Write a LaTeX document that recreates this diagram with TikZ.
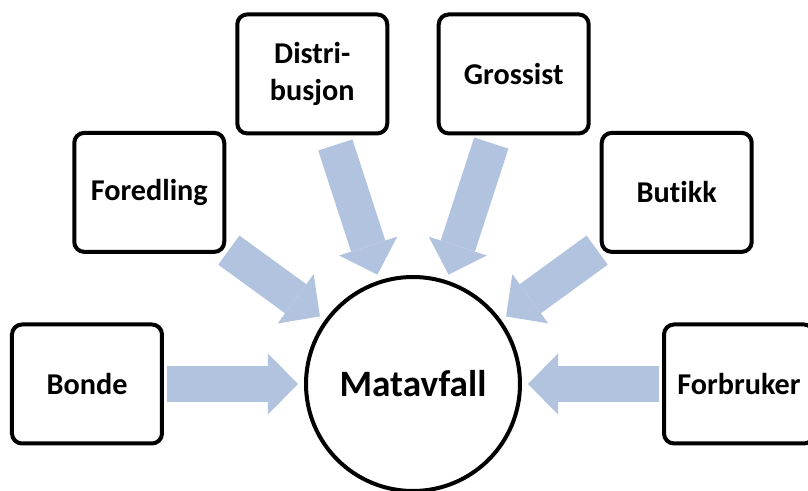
\documentclass[tikz,border=0pt]{standalone}
\usepackage{fontspec}
\setmainfont{Carlito}[RawFeature={-liga}]
\usepackage{tikz}
\usetikzlibrary{arrows.meta, calc}
\usepackage{xcolor}
\definecolor{PilBlaa}{RGB}{177,195,222}

\begin{document}
\begin{tikzpicture}[font=\bfseries,
	ledd/.style={draw=black, line width=0.1cm, rounded corners=0.25cm, fill=white, minimum width=3.75cm, minimum height=2.975cm, inner sep=2pt, align=center, font=\fontsize{21.5}{26}\selectfont\bfseries},
	avfall/.style={circle, draw=black, line width=0.1cm, fill=white, minimum size=5.35cm, inner sep=0pt, font=\fontsize{26.5}{30}\selectfont\bfseries},
	pil/.style={-{Triangle[width=1.525cm, length=0.75cm, line width=0pt]}, line width=0.9cm, PilBlaa, shorten <=0.08cm, shorten >=0.15cm}]

	\useasboundingbox (-10.325,-2.675) rectangle (9.875,9.6);

	% --- midten ---
	\node[avfall] (mat) at (0,0) {Matavfall};

	% --- ledd i verdikjeden ---
	\node[ledd] (bonde) at (180:8.15) {Bonde};
	\node[ledd] (fored) at (144:8.15) {Foredling};
	\node[ledd] (distr) at (108:8.15) {Distri-\\busjon};
	\node[ledd] (gross) at (72:8.15) {Grossist};
	\node[ledd] (butikk) at (36:8.15) {Butikk};
	\node[ledd] (forbr) at (0:8.15) {Forbruker};

	% --- piler inn mot matavfall ---
	\draw[pil] (bonde) -- (mat);
	\draw[pil] (fored) -- (mat);
	\draw[pil, shorten <=0.25cm] (distr) -- (mat);
	\draw[pil, shorten <=0.2cm] (gross) -- (mat);
	\draw[pil] (butikk) -- (mat);
	\draw[pil] (forbr) -- (mat);
\end{tikzpicture}
\end{document}
